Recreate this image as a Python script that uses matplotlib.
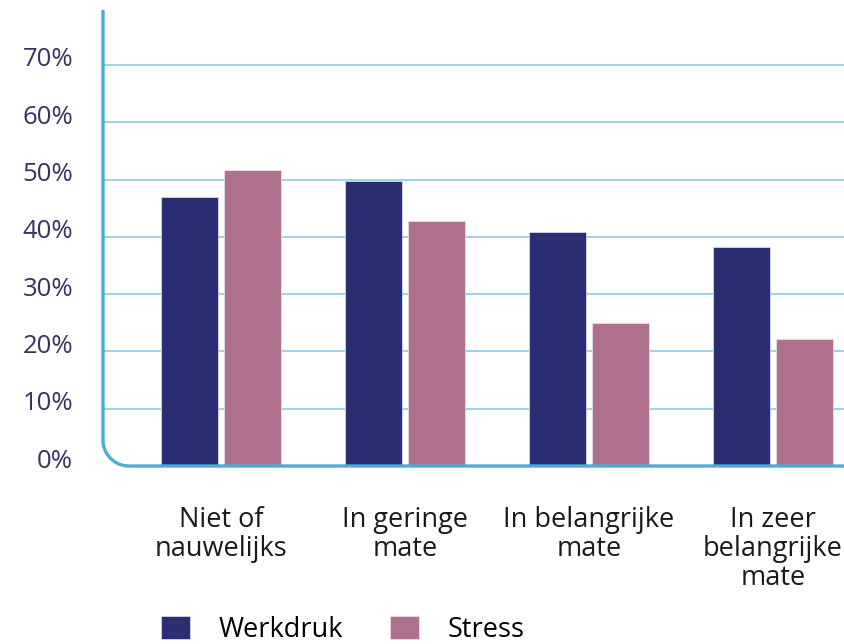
import numpy as np
import matplotlib
matplotlib.use("Agg")
import matplotlib.pyplot as plt
import matplotlib.transforms as mtransforms
from matplotlib.patches import Patch

categories = ["Niet of\nnauwelijks", "In geringe\nmate", "In belangrijke\nmate", "In zeer\nbelangrijke\nmate"]
werkdruk = [47.0, 49.8, 40.9, 38.3]
stress = [51.6, 42.7, 24.9, 22.1]
yticks = [0, 10, 20, 30, 40, 50, 60, 70]
series_names = ["Werkdruk", "Stress"]

navy = "#2a2f72"
pink = "#b0718e"
axis_blue = "#4aacd9"
grid_blue = "#9dd2ea"
label_col = "#3a3360"

plt.rcParams["font.family"] = ["Open Sans", "DejaVu Sans"]

fig = plt.figure(figsize=(8.44, 6.44), dpi=100)
ax = fig.add_axes([103 / 844, 1 - 466 / 644, 1 - 103 / 844, (466 - 10) / 644])

x = np.arange(len(categories))
w = 0.31
off = 0.171
ax.bar(x - off, werkdruk, w, color=navy, edgecolor="#d8d8e8", linewidth=0.6, zorder=3)
ax.bar(x + off, stress, w, color=pink, edgecolor="#f0dde6", linewidth=0.6, zorder=3)

ax.set_xlim(-0.64, 3.386)
ax.set_ylim(0, 79.6)

for s in ax.spines.values():
    s.set_visible(False)

# gridlines
for t in yticks[1:]:
    ax.axhline(t, color=grid_blue, linewidth=1.4, zorder=1)

# axis line with rounded corner
bb = ax.get_position()
W = bb.width * 844
H = bb.height * 644
r = 26
rx, ry = r / W, r / H
th = np.linspace(np.pi, 1.5 * np.pi, 30)
arc_x = rx + rx * np.cos(th)
arc_y = ry + ry * np.sin(th)
px = np.concatenate([[0, 0], arc_x, [1]])
py = np.concatenate([[1, ry], arc_y, [0]])
ax.plot(px, py, transform=ax.transAxes, color=axis_blue, linewidth=2.4,
        clip_on=False, zorder=4, solid_capstyle="butt")

ax.set_yticks(yticks)
ax.set_yticklabels([f"{t}%" for t in yticks], fontsize=18.5, color=label_col)
ax.tick_params(axis="y", length=0, pad=21.5)
dy = mtransforms.ScaledTranslation(0, 8 / 100, fig.dpi_scale_trans)
for lab in ax.get_yticklabels():
    lab.set_transform(lab.get_transform() + dy)

ax.set_xticks(x)
ax.set_xticklabels(categories, fontsize=19.5, color="#1a1a1a", linespacing=1.05)
ax.tick_params(axis="x", length=0, pad=29)

handles = [Patch(facecolor=navy, edgecolor="#d8d8e8", linewidth=0.6),
           Patch(facecolor=pink, edgecolor="#f0dde6", linewidth=0.6)]
fig.legend(handles, series_names, loc="center left",
           bbox_to_anchor=(161 / 844, 1 - 630 / 644), ncol=2, frameon=False,
           fontsize=19.5, handlelength=1.07, handleheight=0.95, handletextpad=1.04,
           columnspacing=1.75, borderpad=0, borderaxespad=0)

fig.savefig("out.png", dpi=100)
